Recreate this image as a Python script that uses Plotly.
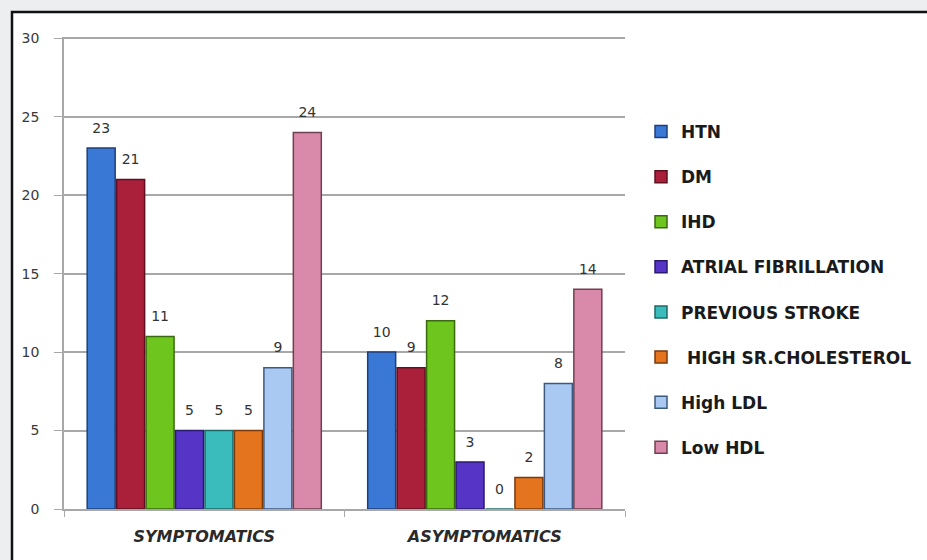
import plotly.graph_objects as go

groups = ["SYMPTOMATICS", "ASYMPTOMATICS"]
series_names = ["HTN", "DM", "IHD", "ATRIAL FIBRILLATION", "PREVIOUS STROKE",
                " HIGH SR.CHOLESTEROL", "High LDL", "Low HDL"]
symptomatic = [23, 21, 11, 5, 5, 5, 9, 24]
asymptomatic = [10, 9, 12, 3, 0, 2, 8, 14]
y_ticks = [0, 5, 10, 15, 20, 25, 30]

fills = ["#3a78d6", "#aa1f3a", "#6ec51e", "#5534c6", "#3bbcbc", "#e5741f", "#a9c9f2", "#d98aaa"]
edges = ["#1f3f78", "#5e1020", "#3a6a10", "#2a1a70", "#1f6868", "#7a3a0c", "#3c5a80", "#704050"]

FONT = "DejaVu Sans, Open Sans, sans-serif"
W, H = 927, 560
L, R, T, B = 64, 302, 37, 51
pw, ph = W - L - R, H - T - B


def px_x(x):
    return (x - L) / pw


def px_y(y):
    return (H - B - y) / ph


fig = go.Figure()
for i, name in enumerate(series_names):
    vals = [symptomatic[i], asymptomatic[i]]
    fig.add_trace(go.Bar(
        name=name,
        x=groups,
        y=vals,
        # value in a 14px span; the short blank line under it lifts the label off the bar
        text=[f"<span style='font-size:14px'>{v}</span><br> " for v in vals],
        textposition="outside",
        cliponaxis=False,
        textfont=dict(family=FONT, size=8, color="#333333"),
        marker=dict(color=fills[i], line=dict(color=edges[i], width=1.5)),
        legendgroup=f"g{i}",
    ))

# outer frame of the chart
fig.add_shape(type="rect", xref="paper", yref="paper",
              x0=px_x(12), x1=px_x(W + 5), y0=px_y(H + 5), y1=px_y(12),
              line=dict(color="#111111", width=2.5), fillcolor="white", layer="below")

fig.update_layout(
    width=W, height=H,
    margin=dict(l=L, r=R, t=T, b=B, autoexpand=False),
    paper_bgcolor="#eceef0",
    plot_bgcolor="rgba(0,0,0,0)",
    barmode="group",
    bargap=0.16,
    bargroupgap=0.05,
    showlegend=True,
    legend=dict(
        x=px_x(641), y=px_y(114), xanchor="left", yanchor="top",
        font=dict(family=FONT, size=17, color="#1a1a1a", weight="bold"),
        tracegroupgap=20, itemwidth=30, bgcolor="rgba(0,0,0,0)",
    ),
    xaxis=dict(
        showline=True, linecolor="#a8a8a8", linewidth=1.5,
        ticks="outside", tickson="boundaries", ticklen=6, tickcolor="#a8a8a8",
        tickfont=dict(family=FONT, size=16, color="#2a2a2a",
                      style="italic", weight="bold"),
        ticklabelstandoff=12,
        showgrid=False,
    ),
    yaxis=dict(
        range=[0, 30.08], tickvals=y_ticks,
        showline=True, linecolor="#a8a8a8", linewidth=1.5,
        ticks="outside", ticklen=8, tickcolor="#a8a8a8",
        gridcolor="#a8a8a8", gridwidth=2,
        tickfont=dict(family=FONT, size=14, color="#3a3a3a"),
        ticklabelstandoff=12,
        zeroline=False,
    ),
)

fig.write_html("out.html")
